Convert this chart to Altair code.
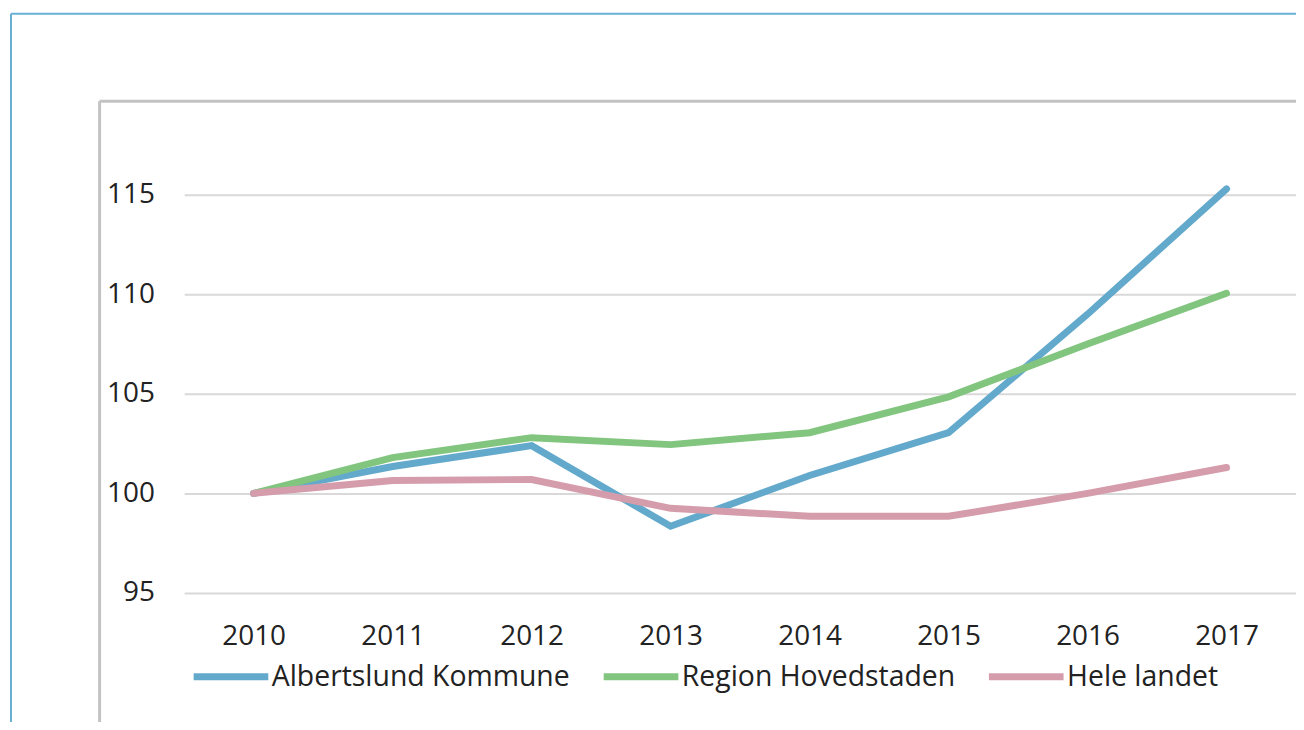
import altair as alt
import pandas as pd

years = ["2010", "2011", "2012", "2013", "2014", "2015", "2016", "2017"]
albertslund = [100.0, 101.35, 102.4, 98.35, 100.9, 103.05, 109.0, 115.3]
region = [100.0, 101.8, 102.8, 102.45, 103.05, 104.85, 107.5, 110.05]
hele = [100.0, 100.65, 100.7, 99.25, 98.85, 98.85, 100.0, 101.3]
series_names = ["Albertslund Kommune", "Region Hovedstaden", "Hele landet"]
series_colors = ["#63a9cc", "#82c57f", "#d59dac"]
y_ticks = [95, 100, 105, 110, 115]

rows = []
for name, vals in zip(series_names, [albertslund, region, hele]):
    for yr, v in zip(years, vals):
        rows.append({"year": yr, "value": v, "series": name})
df = pd.DataFrame(rows)

FONT = "Open Sans"
FS = 28
W, H = 1117, 450

lines = alt.Chart(df).mark_line(strokeWidth=7, strokeCap="round").encode(
    x=alt.X("year:O", sort=years, title=None,
            scale=alt.Scale(type="point", padding=0.5),
            axis=alt.Axis(labelAngle=0, ticks=False, domain=False, grid=False,
                          labelPadding=30, labelFontSize=FS, labelFont=FONT,
                          labelColor="#222222")),
    y=alt.Y("value:Q", title=None,
            scale=alt.Scale(domain=[95, 117.5], nice=False, zero=False),
            axis=alt.Axis(values=y_ticks, ticks=False, domain=False, grid=True,
                          gridColor="#d9d9d9", gridWidth=2, labelPadding=30,
                          labelFontSize=FS, labelFont=FONT, labelColor="#222222")),
    color=alt.Color("series:N", sort=series_names,
                    scale=alt.Scale(domain=series_names, range=series_colors),
                    legend=alt.Legend(orient="none", legendX=6, legendY=493,
                                      direction="horizontal", title=None,
                                      symbolType="stroke", symbolSize=5625,
                                      symbolStrokeWidth=7, labelFontSize=28.5,
                                      labelFont=FONT, labelColor="#222222",
                                      labelLimit=0, columnPadding=19,
                                      labelOffset=0)),
    order=alt.Order("series:N"),
)

dummy = pd.DataFrame({"a": [0]})
gray_top = alt.Chart(dummy).mark_rule(color="#c3c3c3", strokeWidth=3).encode(
    x=alt.value(-85), x2=alt.value(W + 10), y=alt.value(-44))
gray_left = alt.Chart(dummy).mark_rule(color="#c3c3c3", strokeWidth=3).encode(
    x=alt.value(-85), y=alt.value(-44), y2=alt.value(581))
blue_top = alt.Chart(dummy).mark_rule(color="#6ab0d4", strokeWidth=2).encode(
    x=alt.value(-174), x2=alt.value(W + 10), y=alt.value(-132))
blue_left = alt.Chart(dummy).mark_rule(color="#6ab0d4", strokeWidth=2).encode(
    x=alt.value(-174), y=alt.value(-132), y2=alt.value(600))

chart = alt.layer(blue_top, blue_left, gray_top, gray_left, lines).properties(
    width=W, height=H,
    background="white",
    autosize=alt.AutoSizeParams(type="none"),
    padding={"left": 177, "top": 136, "right": 0, "bottom": 128},
).configure_view(strokeWidth=0, stroke=None)

chart.save("out.html", embed_options={"renderer": "svg", "actions": False})
